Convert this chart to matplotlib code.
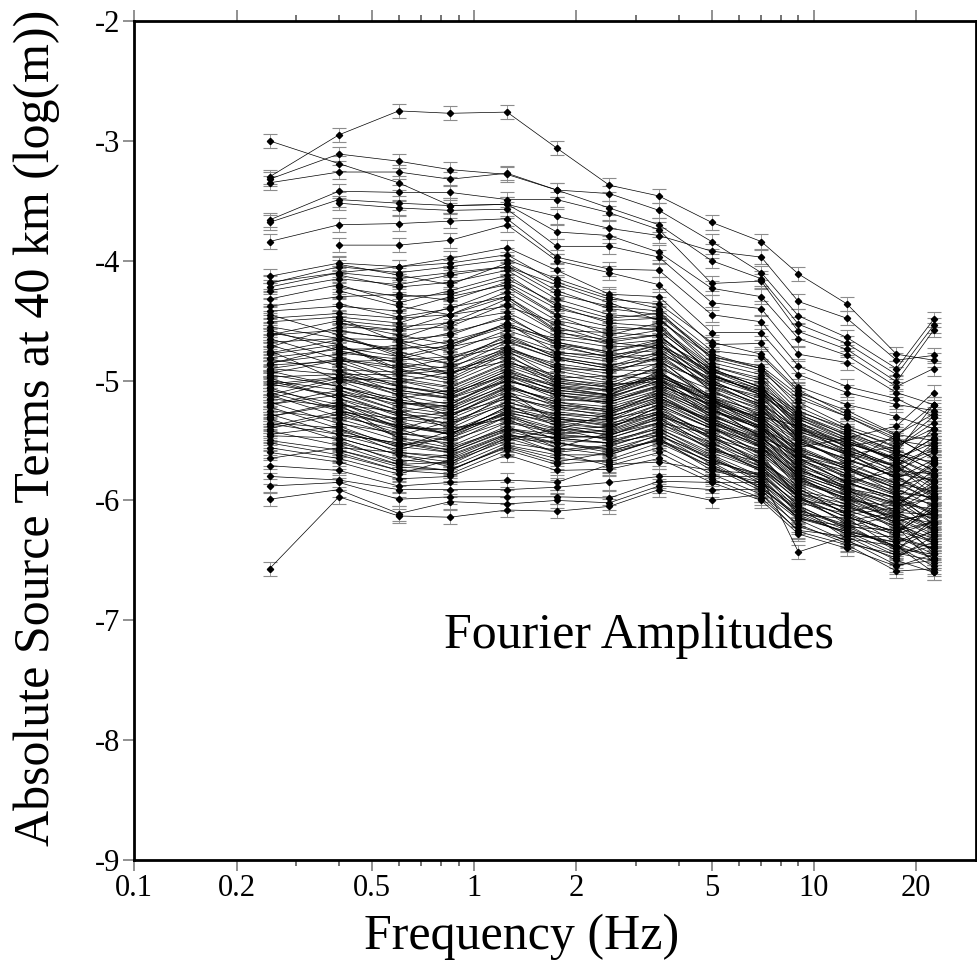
import numpy as np
import matplotlib
matplotlib.use("Agg")
import matplotlib.pyplot as plt
from matplotlib.ticker import FixedLocator, FixedFormatter, NullFormatter

plt.rcParams['font.family'] = ['Liberation Serif', 'DejaVu Serif']
plt.rcParams['axes.unicode_minus'] = False

nan = np.nan
freqs = [0.25, 0.4, 0.6, 0.85, 1.25, 1.75, 2.5, 3.5, 5, 7, 9, 12.5, 17.5, 22.5]
err = 0.06

# log10 source terms (x100), one row per event
top_events = [
    [-330, -295, -275, -277, -276, -306, -337, -346, -368, -384, -411, -436, -478, -483],
    [-300, -319, -335, -354, -353, -363, -373, -379, -392, -397, -434, -448, -483, -479],
    [-332, -311, -317, -324, -328, -341, -344, -358, -384, -410, -446, -464, -490, -449],
    [-335, -326, -326, -332, -327, -341, -356, -370, -400, -415, -453, -469, -495, -454],
    [-366, -342, -343, -343, -349, -349, -360, -374, -419, -417, -459, -474, -501, -458],
    [-368, -349, -352, -354, -353, -376, -379, -393, -423, -430, -465, -479, -505, -490],
    [nan, -352, -356, -358, -357, -388, -388, -397, -435, -440, -478, -485, -510, -520],
    [-384, -370, -369, -367, -365, -397, -407, -408, -445, -451, -488, -505, -515, -530],
    [nan, -387, -387, -383, -370, -400, -410, -420, -460, -460, -495, -510, -520, -525],
    [-413, -402, -405, -398, -389, -408, -428, -430, -470, -469, -505, -520, -530, -540],
    [-419, -405, -410, -405, -399, -415, -430, -440, -475, -480, -510, -525, -545, -550],
    [-422, -410, -415, -410, -405, -420, -435, -450, -480, -490, -515, -530, -550, -555],
]

band_upper = [
    [-425, -415, -420, -412, -405, -428, -438, -442, -482, -492, -518, -538, -552, -545],
    [-438, -430, -428, -433, -418, -440, -450, -448, -488, -498, -528, -546, -562, -568],
    [nan, -436, -447, -440, -422, -446, -462, -452, -496, -507, -534, -556, -571, -558],
    [-451, -447, -452, -439, -430, -458, -460, -463, -495, -512, -543, -553, -578, -583],
    [-462, -450, -455, -452, -432, -459, -470, -466, -503, -513, -549, -561, -582, -566],
    [nan, -459, -465, -451, -443, -463, -468, -473, -502, -522, -550, -568, -586, -592],
    [-468, -465, -466, -462, -446, -470, -476, -468, -510, -523, -557, -572, -588, -580],
    [-477, -466, -474, -467, -454, -470, -481, -478, -508, -530, -562, -573, -594, -597],
    [-481, -474, -473, -472, -452, -477, -479, -483, -514, -533, -560, -582, -596, -603],
    [nan, -477, -482, -472, -462, -481, -487, -482, -517, -536, -567, -584, -602, -588],
    [-487, -484, -483, -480, -467, -482, -490, -486, -516, -540, -569, -589, -603, -607],
    [-494, -483, -490, -481, -472, -490, -491, -492, -522, -539, -574, -591, -610, -612],
    [nan, -491, -493, -488, -474, -490, -497, -493, -523, -547, -576, -590, -598, -617],
    [-497, -495, -495, -491, -480, -498, -496, -499, -529, -546, -579, -596, -613, -619],
    [-503, -497, -501, -493, -484, -499, -503, -501, -531, -552, -581, -599, -617, -611],
    [-445, -462, -480, -470, -455, -465, -472, -470, -500, -518, -548, -570, -585, -600],
    [-472, -455, -458, -445, -438, -452, -465, -458, -492, -505, -538, -560, -575, -578],
    [nan, -425, -438, -445, -430, -455, -468, -462, -498, -508, -540, -558, -572, -585],
    [-460, -470, -490, -500, -478, -502, -505, -498, -525, -538, -562, -580, -592, -598],
    [-485, -478, -470, -460, -448, -468, -478, -475, -505, -520, -552, -566, -580, -575],
    [nan, -403, -412, -420, -402, -425, -440, -445, -480, -488, -512, -530, -548, -565],
    [-418, -410, -405, -402, -395, -418, -432, -436, -468, -478, -508, -528, -546, -520],
    [nan, -412, -422, -418, -408, -432, -445, -448, -485, -495, -525, -542, -560, -575],
    [-432, -420, -435, -425, -412, -438, -452, -455, -488, -500, -530, -548, -565, -552],
    [nan, -422, -430, -428, -415, -436, -448, -444, -478, -490, -522, -540, -555, -540],
    [-442, -438, -442, -430, -420, -445, -455, -458, -492, -502, -532, -550, -568, -588],
    [-448, -444, -448, -445, -426, -450, -458, -456, -490, -506, -536, -552, -566, -548],
    [nan, -452, -458, -455, -436, -460, -466, -462, -496, -510, -538, -555, -572, -595],
]

band_mid = [
    [-470, -488, -505, -512, -492, -510, -515, -500, -522, -548, -570, -585, -575, -560],
    [nan, -462, -478, -495, -475, -498, -505, -488, -515, -535, -555, -572, -590, -605],
    [-492, -505, -515, -508, -488, -502, -508, -495, -512, -528, -548, -560, -572, -540],
    [nan, -480, -495, -502, -482, -505, -512, -492, -520, -530, -538, -552, -565, -580],
    [-515, -500, -498, -505, -485, -495, -502, -490, -508, -525, -545, -562, -555, -530],
    [-478, -470, -492, -498, -476, -492, -500, -485, -502, -515, -540, -555, -548, -565],
    [nan, -495, -512, -520, -498, -515, -518, -505, -525, -540, -562, -578, -560, -520],
    [-500, -508, -520, -518, -500, -512, -520, -508, -530, -545, -565, -575, -590, -570],
    [-458, -475, -485, -490, -468, -482, -490, -478, -498, -512, -532, -548, -538, -510],
    [nan, -485, -500, -510, -490, -506, -512, -496, -518, -532, -552, -565, -580, -595],
    [-508, -520, -532, -526, -505, -518, -522, -510, -532, -548, -560, -570, -545, -528],
    [nan, -448, -468, -482, -464, -480, -488, -476, -500, -518, -542, -558, -572, -590],
    [-482, -492, -510, -515, -495, -508, -513, -502, -524, -540, -556, -548, -568, -585],
    [-465, -482, -500, -506, -486, -500, -506, -494, -514, -526, -546, -562, -578, -552],
    [nan, -510, -525, -530, -506, -516, -518, -504, -520, -538, -564, -585, -598, -575],
    [-520, -512, -516, -522, -500, -510, -514, -500, -516, -532, -556, -574, -586, -600],
    [-498, -515, -528, -532, -512, -524, -528, -514, -536, -552, -575, -588, -570, -556],
    [nan, -472, -486, -494, -472, -488, -494, -480, -506, -522, -544, -560, -582, -596],
    [-475, -500, -518, -524, -503, -520, -524, -512, -534, -550, -574, -590, -604, -585],
    [-490, -482, -488, -495, -474, -486, -492, -482, -504, -520, -540, -552, -565, -578],
    [nan, -525, -538, -545, -522, -532, -534, -520, -540, -556, -578, -592, -605, -580],
    [-512, -498, -508, -514, -494, -505, -509, -497, -514, -530, -550, -566, -580, -598],
    [-455, -465, -476, -486, -466, -478, -484, -472, -496, -510, -530, -545, -560, -575],
    [nan, -452, -462, -470, -452, -468, -476, -466, -490, -506, -526, -540, -556, -535],
    [-530, -520, -526, -520, -496, -512, -518, -506, -528, -544, -566, -580, -595, -612],
    [-486, -472, -480, -486, -462, -476, -482, -470, -494, -512, -535, -550, -566, -548],
    [nan, -505, -518, -526, -506, -522, -526, -512, -536, -548, -572, -586, -598, -610],
    [-506, -524, -540, -540, -518, -528, -530, -518, -538, -555, -580, -595, -612, -595],
    [-462, -458, -466, -476, -458, -472, -480, -470, -492, -508, -528, -544, -558, -570],
    [nan, -492, -504, -512, -492, -504, -508, -496, -516, -534, -558, -574, -590, -568],
]

band_lower = [
    [-505, -498, -512, -530, -508, -536, -540, -522, -548, -560, -585, -598, -610, -622],
    [-512, -530, -541, -528, -515, -522, -530, -518, -532, -555, -590, -612, -606, -615],
    [nan, -520, -548, -552, -530, -541, -528, -510, -528, -548, -568, -590, -620, -632],
    [-520, -508, -525, -540, -532, -550, -552, -540, -560, -575, -600, -605, -618, -610],
    [-528, -545, -552, -558, -540, -545, -548, -535, -545, -570, -596, -620, -632, -640],
    [nan, -512, -530, -536, -520, -538, -546, -530, -542, -565, -592, -600, -625, -618],
    [-535, -540, -560, -565, -545, -560, -555, -542, -566, -582, -610, -628, -635, -648],
    [-540, -528, -544, -548, -525, -532, -537, -520, -540, -553, -580, -602, -614, -628],
    [nan, -552, -566, -570, -548, -552, -560, -545, -570, -590, -612, -615, -640, -625],
    [-545, -538, -556, -542, -528, -545, -542, -528, -552, -568, -588, -608, -622, -652],
    [-550, -558, -572, -575, -555, -565, -568, -556, -578, -595, -620, -636, -645, -635],
    [nan, -535, -550, -558, -538, -556, -562, -548, -575, -585, -605, -632, -638, -655],
    [-556, -565, -578, -566, -548, -560, -571, -560, -582, -598, -625, -630, -650, -660],
    [-500, -515, -534, -545, -522, -528, -533, -516, -538, -562, -598, -618, -628, -605],
    [-495, -505, -518, -522, -504, -518, -525, -508, -526, -540, -565, -585, -598, -612],
    [nan, -500, -508, -515, -500, -512, -516, -504, -520, -542, -572, -594, -608, -590],
    [-490, -495, -505, -510, -496, -508, -512, -498, -518, -536, -560, -578, -595, -620],
    [-515, -522, -538, -544, -527, -535, -532, -524, -545, -558, -583, -596, -615, -630],
    [nan, -542, -555, -560, -541, -548, -552, -538, -556, -572, -598, -614, -626, -608],
    [-525, -532, -546, -534, -518, -530, -536, -526, -549, -570, -594, -603, -620, -642],
    [-532, -550, -568, -562, -544, -556, -544, -532, -554, -576, -605, -622, -612, -625],
    [nan, -560, -575, -578, -558, -570, -566, -552, -572, -588, -615, -626, -644, -650],
    [-538, -526, -532, -538, -512, -526, -531, -515, -535, -556, -582, -600, -605, -598],
    [-546, -548, -562, -568, -550, -540, -550, -540, -562, -580, -602, -611, -630, -645],
    [nan, -518, -540, -555, -535, -544, -541, -527, -547, -568, -594, -606, -618, -636],
    [-560, -568, -582, -580, -562, -575, -574, -565, -585, -600, -628, -640, -655, -645],
    [-565, -556, -560, -563, -545, -552, -558, -550, -568, -578, -604, -624, -638, -660],
    [nan, -545, -558, -546, -528, -540, -545, -535, -558, -574, -600, -617, -610, -624],
    [-510, -525, -548, -556, -540, -548, -546, -532, -558, -568, -590, -612, -635, -626],
    [-518, -536, -544, -550, -534, -542, -538, -526, -544, -562, -586, -604, -622, -634],
    [nan, -548, -562, -572, -552, -558, -554, -543, -563, -584, -608, -620, -642, -615],
    [-530, -518, -536, -545, -526, -537, -543, -530, -556, -574, -596, -610, -600, -620],
    [-542, -554, -570, -568, -546, -548, -552, -545, -566, -580, -612, -628, -646, -638],
    [nan, -527, -538, -542, -524, -534, -540, -522, -540, -560, -584, -598, -616, -644],
    [-552, -562, -575, -574, -556, -568, -560, -550, -572, -592, -616, -634, -648, -630],
    [-503, -512, -528, -536, -514, -532, -538, -528, -548, -566, -594, -610, -628, -618],
    [nan, -505, -522, -528, -510, -520, -526, -514, -534, -552, -578, -592, -602, -625],
    [-522, -540, -554, -548, -530, -546, -548, -536, -552, -572, -597, -614, -626, -602],
    [-536, -545, -552, -560, -542, -552, -557, -546, -564, -586, -609, -625, -638, -648],
    [nan, -558, -570, -575, -554, -562, -562, -549, -568, -590, -614, -626, -635, -620],
]

bottom_events = [
    [-657, -597, -613, -614, -608, -609, -605, -591, -600, -595, -626, -637, -659, -657],
    [-599, -591, -611, -601, -603, -600, -602, -588, -591, -591, -622, -633, -654, -650],
    [-588, -585, -599, -597, -597, -597, -598, -584, -585, -585, -615, -622, -640, -645],
    [-580, -583, -591, -591, -591, -589, -585, -580, -580, -580, -643, -630, -630, -640],
    [-571, -575, -588, -585, -583, -585, -570, -568, -575, -578, -608, -622, -625, -635],
]

fig = plt.figure(figsize=(9.77, 9.68), dpi=100)
ax = fig.add_axes([0.1375, 0.1116, 0.8615, 0.8667])

x = np.array(freqs)
for group in (top_events, band_upper, band_mid, band_lower, bottom_events):
    for row in group:
        y = np.array(row, dtype=float) / 100.0
        ax.errorbar(x, y, yerr=err, fmt='-', color='k', lw=0.5,
                    marker='D', ms=3.2, mfc='k', mec='k',
                    ecolor='0.55', elinewidth=0.6, capsize=5, capthick=0.8)

ax.set_xscale('log')
ax.set_xlim(0.1, 30)
ax.set_ylim(-9, -2)

major = [0.1, 0.2, 0.5, 1, 2, 5, 10, 20]
minor = [0.3, 0.4, 0.6, 0.7, 0.8, 0.9, 3, 4, 6, 7, 8, 9]
ax.xaxis.set_major_locator(FixedLocator(major))
ax.xaxis.set_major_formatter(FixedFormatter(['0.1', '0.2', '0.5', '1', '2', '5', '10', '20']))
ax.xaxis.set_minor_locator(FixedLocator(minor))
ax.xaxis.set_minor_formatter(NullFormatter())
ax.set_yticks([-9, -8, -7, -6, -5, -4, -3, -2])
ax.set_yticklabels(['-9', '-8', '-7', '-6', '-5', '-4', '-3', '-2'])

ax.tick_params(which='major', direction='out', length=8, width=1.1, color='0.45',
               labelsize=22, pad=2, top=True, right=False)
ax.tick_params(which='minor', direction='out', length=4.5, width=1.1, color='0.3',
               top=True, right=False)
for s in ax.spines.values():
    s.set_linewidth(2)

ax.set_xlabel('Frequency (Hz)', fontsize=36)
ax.set_ylabel('Absolute Source Terms at 40 km (log(m))', fontsize=36)
ax.xaxis.set_label_coords(0.46, -0.064)
ax.yaxis.set_label_coords(-0.088, 0.515)

ax.text(3.05, -7.13, 'Fourier Amplitudes', fontsize=36, ha='center', va='center')

plt.savefig('out.png', dpi=100)
